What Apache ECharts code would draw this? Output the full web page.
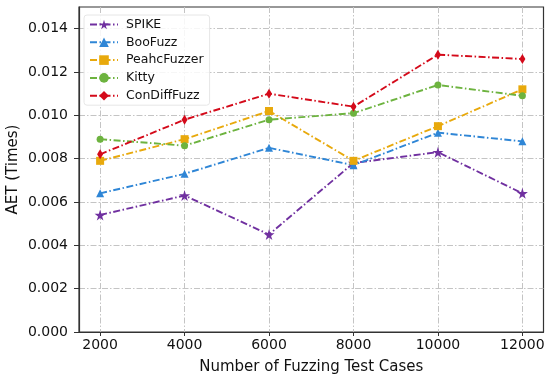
<!DOCTYPE html>
<html><head><meta charset="utf-8">
<script src="https://cdn.jsdelivr.net/npm/echarts@6/dist/echarts.min.js"></script>
<style>html,body{margin:0;padding:0;background:#fff}#c{width:550px;height:382px}</style>
</head><body><div id="c"></div>
<script>
const xValues = [2000, 4000, 6000, 8000, 10000, 12000];
const yTicks = [0, 0.002, 0.004, 0.006, 0.008, 0.010, 0.012, 0.014];
const seriesNames = ['SPIKE', 'BooFuzz', 'PeahcFuzzer', 'Kitty', 'ConDiffFuzz'];
const spike = [0.0054, 0.0063, 0.0045, 0.0078, 0.0083, 0.0064];
const boofuzz = [0.0064, 0.0073, 0.0085, 0.0077, 0.0092, 0.0088];
const peahc = [0.0079, 0.0089, 0.0102, 0.0079, 0.0095, 0.0112];
const kitty = [0.0089, 0.0086, 0.0098, 0.0101, 0.0114, 0.0109];
const condiff = [0.0082, 0.0098, 0.0110, 0.0104, 0.0128, 0.0126];

const colors = ['#7030A0', '#2F86D6', '#E8A90C', '#6DB33F', '#D40A1A'];
const star = 'path://M50,0 L61,35 L98,35 L68,57 L79,91 L50,70 L21,91 L32,57 L2,35 L39,35 Z';
const symbols = [star, 'triangle', 'rect', 'circle', 'diamond'];
const sizes = [11, 8, 8, 7, [6, 10]];
const allData = [spike, boofuzz, peahc, kitty, condiff];
const font = 'DejaVu Sans';

const chart = echarts.init(document.getElementById('c'), null, {renderer: 'canvas'});
chart.setOption({
  animation: false,
  textStyle: {fontFamily: font},
  grid: {left: 79, right: 6.5, top: 7, bottom: 50, show: true, borderColor: '#333', borderWidth: 1.2,
    containLabel: false, outerBoundsMode: 'none'},
  legend: {
    left: 84, top: 15, orient: 'vertical', itemGap: 4.8, itemWidth: 28, itemHeight: 12,
    backgroundColor: 'rgba(255,255,255,0.85)', borderColor: '#e6e6e6', borderWidth: 1, borderRadius: 3,
    padding: [3, 6, 3, 5],
    textStyle: {fontFamily: font, fontSize: 12.5, color: '#111', padding: [0, 0, 0, 3]},
    data: seriesNames
  },
  xAxis: {
    type: 'value', min: 1500, max: 12500,
    name: 'Number of Fuzzing Test Cases', nameLocation: 'middle', nameGap: 28,
    nameTextStyle: {fontFamily: font, fontSize: 15, color: '#111'},
    axisLine: {show: true, lineStyle: {color: '#333', width: 1.2}},
    axisTick: {show: true, length: 4, lineStyle: {color: '#333'}, customValues: xValues},
    axisLabel: {customValues: xValues, fontFamily: font, fontSize: 14, color: '#111', margin: 6,
      formatter: v => String(v)},
    splitLine: {show: true, lineStyle: {color: '#c4c4c4', width: 1, type: [6, 2, 1.5, 2]}}
  },
  yAxis: {
    type: 'value', min: 0, max: 0.015,
    name: 'AET (Times)', nameLocation: 'middle', nameGap: 58, nameRotate: 90, nameMoveOverlap: false,
    nameTextStyle: {fontFamily: font, fontSize: 15, color: '#111'},
    axisLine: {show: true, lineStyle: {color: '#333', width: 1.2}},
    axisTick: {show: true, length: 5, lineStyle: {color: '#333'}, customValues: yTicks},
    axisLabel: {customValues: yTicks, fontFamily: font, fontSize: 14, color: '#111', margin: 11,
      formatter: v => v.toFixed(3)},
    splitLine: {show: true, lineStyle: {color: '#c4c4c4', width: 1, type: [6, 2, 1.5, 2]}}
  },
  series: seriesNames.map((n, i) => ({
    name: n, type: 'line',
    data: xValues.map((x, j) => [x, allData[i][j]]),
    symbol: symbols[i], symbolSize: sizes[i],
    itemStyle: {color: colors[i]},
    lineStyle: {color: colors[i], width: 1.9, type: [7, 2.5, 1.5, 2.5]},
    z: 3 + i
  }))
});
</script></body></html>
